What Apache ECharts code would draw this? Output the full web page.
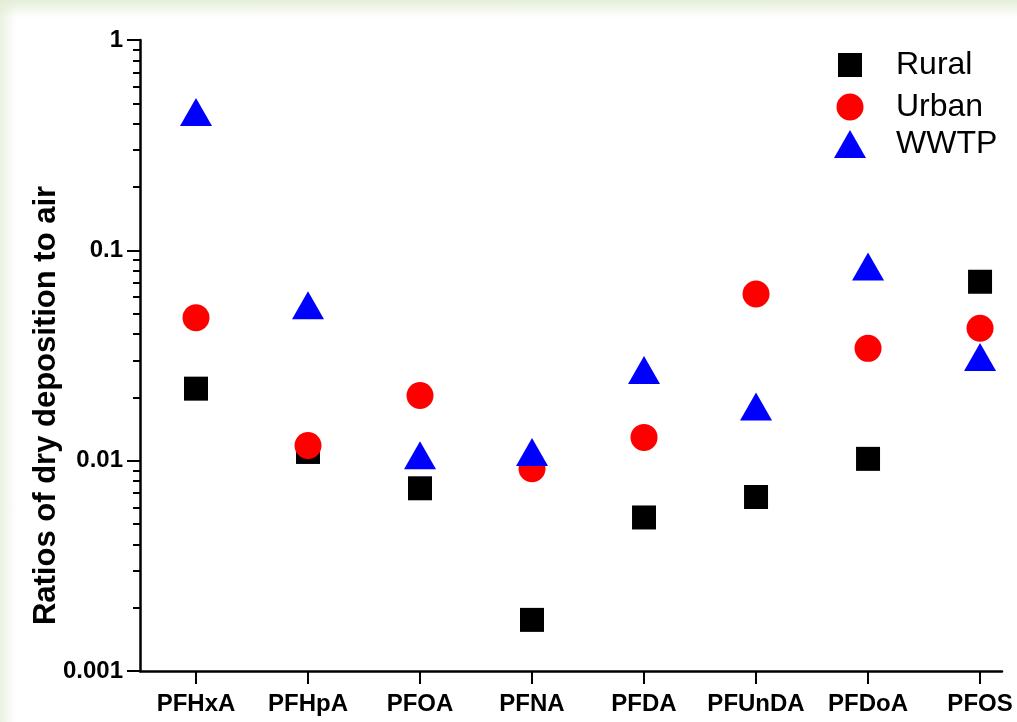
<!DOCTYPE html>
<html>
<head>
<meta charset="utf-8">
<script src="https://cdn.jsdelivr.net/npm/echarts@6/dist/echarts.min.js"></script>
<style>
  html, body { margin: 0; padding: 0; }
  body {
    width: 1017px; height: 722px; overflow: hidden;
    background:
      linear-gradient(to bottom, rgba(226,236,212,0.9) 0px, rgba(255,255,255,0) 18px),
      linear-gradient(to right, rgba(232,240,222,0.9) 0px, rgba(255,255,255,0) 16px),
      #ffffff;
  }
  #chart { width: 1017px; height: 722px; }
</style>
</head>
<body>
<div id="chart"></div>
<script>
const categories = ['PFHxA', 'PFHpA', 'PFOA', 'PFNA', 'PFDA', 'PFUnDA', 'PFDoA', 'PFOS'];
const rural = [0.0220, 0.0110, 0.00739, 0.00175, 0.00537, 0.00672, 0.0102, 0.0709];
const urban = [0.0478, 0.0118, 0.0204, 0.00915, 0.0129, 0.0620, 0.0342, 0.0426];
const wwtp  = [0.455, 0.0548, 0.0106, 0.0110, 0.0270, 0.0181, 0.0838, 0.0311];
const yTickLabels = ['0.001', '0.01', '0.1', '1'];
const yAxisTitle = 'Ratios of dry deposition to air';

const catIdx = categories.map((c, i) => i);
const minorTicks = [];
for (let e = -3; e < 0; e++) {
  for (let k = 2; k <= 9; k++) minorTicks.push(Math.log10(k) + e);
}
const toPoints = arr => arr.map((v, i) => [i, v]);
const FONT = '"Liberation Sans", Arial, sans-serif';

const chart = echarts.init(document.getElementById('chart'), null, { renderer: 'canvas' });
chart.setOption({
  backgroundColor: 'transparent',
  animation: false,
  grid: { left: 140, top: 40, bottom: 51, right: 15, containLabel: false },
  xAxis: {
    type: 'value',
    min: -0.5,
    max: 7.196,
    splitLine: { show: false },
    axisLine: { show: true, onZero: false, lineStyle: { color: '#000', width: 2.5 } },
    axisTick: { show: true, inside: false, length: 13, customValues: catIdx, lineStyle: { color: '#000', width: 2 } },
    axisLabel: {
      show: true, customValues: catIdx, margin: 21,
      formatter: v => categories[Math.round(v)] || '',
      color: '#000', fontFamily: FONT, fontWeight: 'bold', fontSize: 24
    }
  },
  yAxis: [
    {
      type: 'log',
      logBase: 10,
      min: 0.001,
      max: 1,
      splitNumber: 3,
      splitLine: { show: false },
      axisLine: { show: true, onZero: false, lineStyle: { color: '#000', width: 2.5 } },
      axisTick: { show: true, inside: false, length: 13, lineStyle: { color: '#000', width: 2 } },
      axisLabel: {
        margin: 17,
        formatter: v => yTickLabels[Math.round(Math.log10(v)) + 3] || '',
        color: '#000', fontFamily: FONT, fontWeight: 'bold', fontSize: 24
      },
      name: yAxisTitle,
      nameLocation: 'middle',
      nameGap: 78,
      nameMoveOverlap: false,
      nameTextStyle: { color: '#000', fontFamily: FONT, fontWeight: 'bold', fontSize: 31, padding: [0, 100, 0, 0] }
    },
    {
      type: 'value',
      min: -3,
      max: 0,
      position: 'left',
      splitLine: { show: false },
      axisLine: { show: false, onZero: false },
      axisLabel: { show: false },
      axisTick: { show: true, inside: false, length: 7, customValues: minorTicks, lineStyle: { color: '#000', width: 2 } }
    }
  ],
  legend: [
    {
      data: ['Rural'], orient: 'vertical', left: 833, top: 44,
      itemWidth: 24, itemHeight: 24,
      textStyle: { color: '#000', fontFamily: FONT, fontSize: 32, padding: [0, 0, 0, 29] }
    },
    {
      data: ['Urban'], orient: 'vertical', left: 831.5, top: 86,
      itemWidth: 27, itemHeight: 27,
      textStyle: { color: '#000', fontFamily: FONT, fontSize: 32, padding: [0, 0, 0, 27.5] }
    },
    {
      data: ['WWTP'], orient: 'vertical', left: 829, top: 123,
      itemWidth: 32, itemHeight: 28,
      textStyle: { color: '#000', fontFamily: FONT, fontSize: 32, padding: [0, 0, 0, 25] }
    }
  ],
  series: [
    { name: 'Rural', type: 'scatter', yAxisIndex: 0, symbol: 'rect', symbolSize: 24,
      itemStyle: { color: '#000000', opacity: 1 }, data: toPoints(rural) },
    { name: 'Urban', type: 'scatter', yAxisIndex: 0, symbol: 'circle', symbolSize: 27,
      itemStyle: { color: '#ff0000', opacity: 1 }, data: toPoints(urban) },
    { name: 'WWTP', type: 'scatter', yAxisIndex: 0, symbol: 'triangle', symbolSize: [32, 28],
      itemStyle: { color: '#0000ff', opacity: 1 }, data: toPoints(wwtp) }
  ]
});
</script>
</body>
</html>
